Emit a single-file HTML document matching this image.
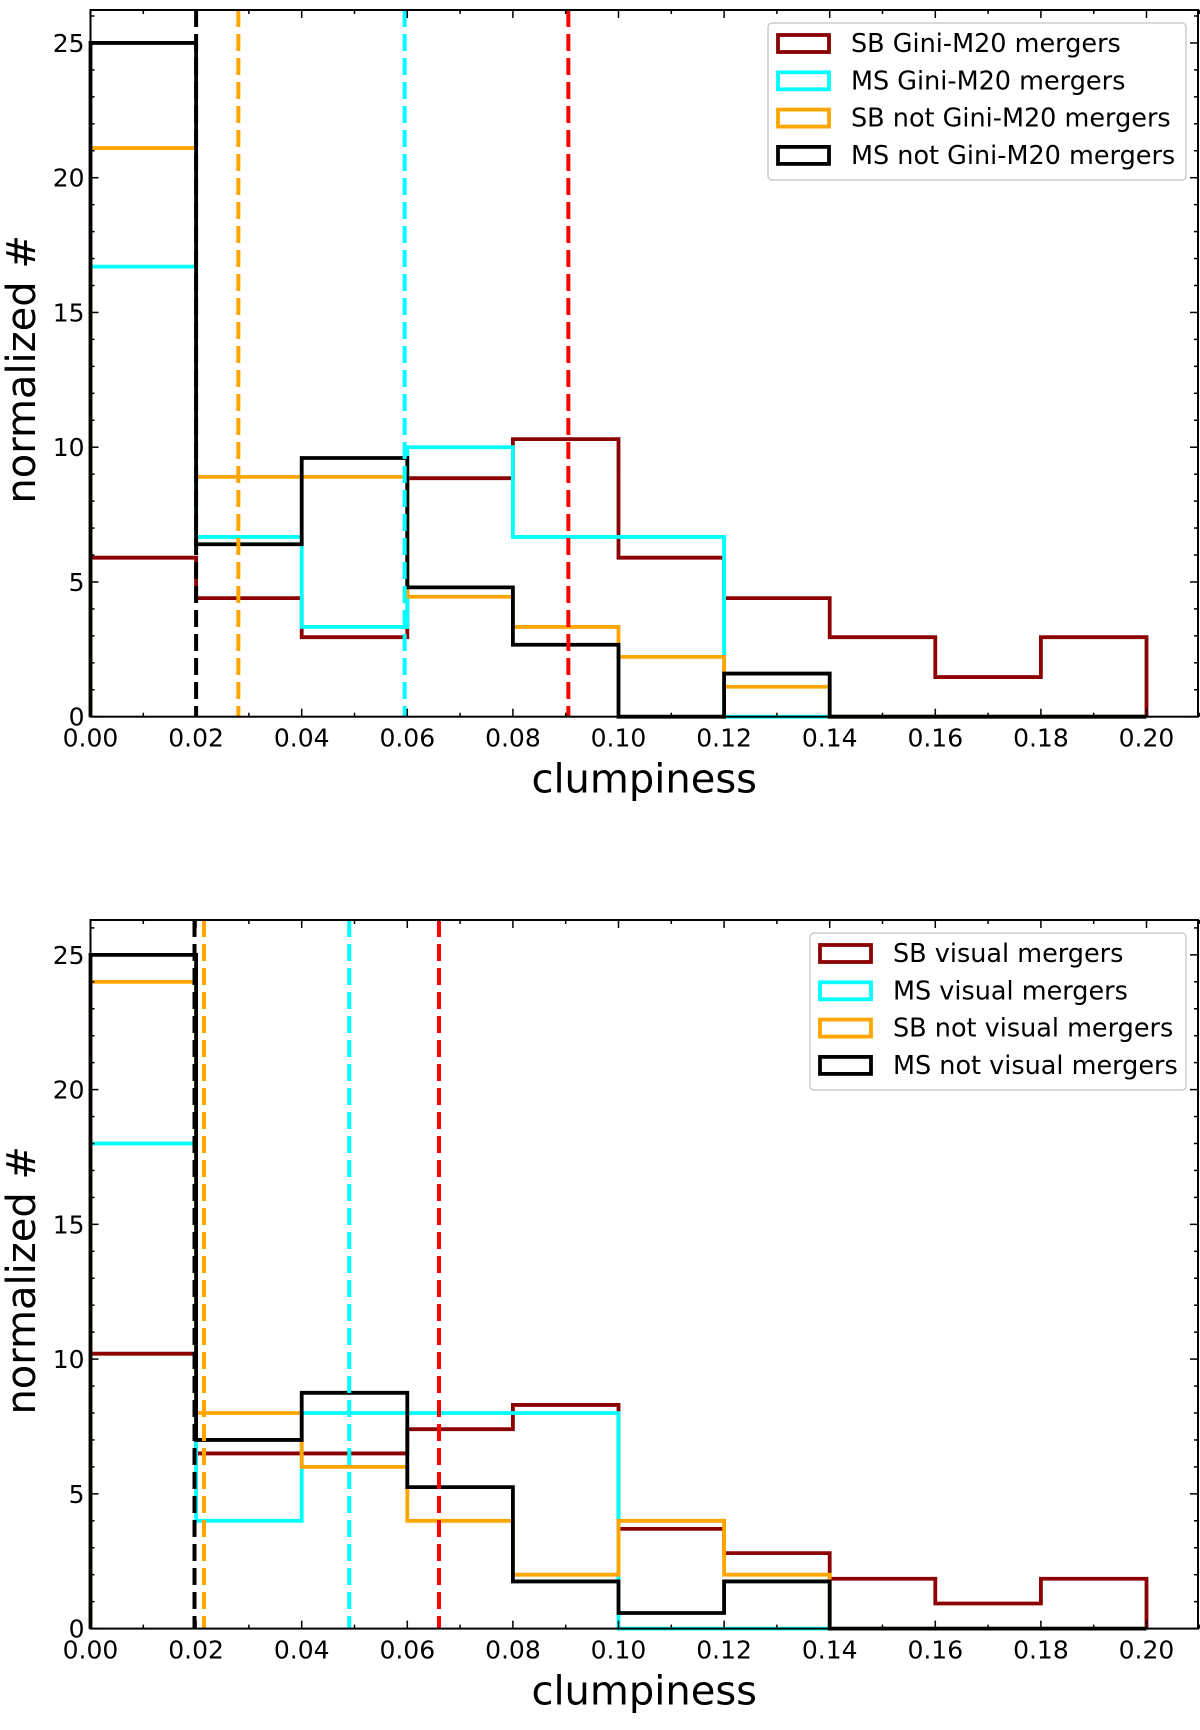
<!DOCTYPE html>
<html><head><meta charset="utf-8"><style>
body{margin:0;background:#fff}
svg text{font-family:"DejaVu Sans","Liberation Sans",sans-serif;fill:#000}
</style></head><body>
<svg id="fig" width="1200" height="1725" xmlns="http://www.w3.org/2000/svg"></svg>
<script>
const binEdges=[0,0.02,0.04,0.06,0.08,0.10,0.12,0.14,0.16,0.18,0.20];
const xTicks=[0,0.02,0.04,0.06,0.08,0.10,0.12,0.14,0.16,0.18,0.20];
const xTickLabels=["0.00","0.02","0.04","0.06","0.08","0.10","0.12","0.14","0.16","0.18","0.20"];
const yTicks=[0,5,10,15,20,25];
const yTickLabels=["0","5","10","15","20","25"];
const seriesColors=["#8b0000","#00ffff","#ffa500","#000000"];
const topLabels=["SB Gini-M20 mergers","MS Gini-M20 mergers","SB not Gini-M20 mergers","MS not Gini-M20 mergers"];
const topSB=[5.9,4.4,2.95,8.85,10.3,5.9,4.4,2.95,1.47,2.95];
const topMS=[16.7,6.67,3.33,10,6.67,6.67,0,0,0,0];
const topSBnot=[21.1,8.9,8.9,4.45,3.33,2.22,1.11,0,0,0];
const topMSnot=[25,6.4,9.6,4.8,2.67,0,1.6,0,0,0];
const topMedians=[0.0905,0.0595,0.028,0.02];
const botLabels=["SB visual mergers","MS visual mergers","SB not visual mergers","MS not visual mergers"];
const botSB=[10.2,6.5,6.5,7.4,8.3,3.7,2.8,1.85,0.93,1.85];
const botMS=[18,4,8,8,8,0,0,0,0,0];
const botSBnot=[24,8,6,4,2,4,2,0,0,0];
const botMSnot=[25,7,8.75,5.25,1.75,0.58,1.75,0,0,0];
const botMedians=[0.066,0.049,0.0215,0.0197];
const medianColors=["#ff0000","#00ffff","#ffa500","#000000"];

const NS="http://www.w3.org/2000/svg";
const fig=document.getElementById('fig');
function mk(tag,attrs,parent){const e=document.createElementNS(NS,tag);for(const k in attrs)e.setAttribute(k,attrs[k]);(parent||fig).appendChild(e);return e;}

function panel(name,top,zeroY,series,labels,medians,legend){
  const L=90.5,R=1198,ymax=(zeroY-top)/26.95;
  const X=v=>L+v/0.02*105.6;
  const Y=v=>zeroY-v*26.95;
  const g=mk('g',{});
  
  
  series.forEach((vals,si)=>{
    let d='M'+X(binEdges[0])+','+Y(0);
    vals.forEach((v,i)=>{d+=' L'+X(binEdges[i])+','+Y(v)+' L'+X(binEdges[i+1])+','+Y(v);});
    d+=' L'+X(binEdges[vals.length])+','+Y(0);
    const p=mk('path',{d:d,fill:'none',stroke:seriesColors[si],'stroke-width':3.8,'stroke-linejoin':'miter'},g);
    
    
  });
  medians.forEach((m,i)=>{
    const l=mk('line',{x1:X(m),x2:X(m),y1:top,y2:zeroY,stroke:medianColors[i],'stroke-width':4,'stroke-dasharray':'17,7'},g);
    
    
  });
  const sp=mk('rect',{x:L,y:top,width:R-L,height:zeroY-top,fill:'none',stroke:'#000','stroke-width':2},g);
  
  
  for(let k=0;k<=21;k++){
    const v=k*0.01,x=X(v),len=(k%2==0)?8:4;
    mk('line',{x1:x,x2:x,y1:zeroY,y2:zeroY-len,stroke:'#000','stroke-width':1.5},g);
    mk('line',{x1:x,x2:x,y1:top,y2:top+len,stroke:'#000','stroke-width':1.5},g);
  }
  xTicks.forEach((v,i)=>{
    const t=mk('text',{x:X(v),y:zeroY+30,'font-size':25,'text-anchor':'middle'},g);
    t.textContent=xTickLabels[i];
    
    
  });
  for(let v=0;v<=ymax;v++){
    const y=Y(v),len=(v%5==0)?8:4;
    mk('line',{x1:L,x2:L+len,y1:y,y2:y,stroke:'#000','stroke-width':1.5},g);
    mk('line',{x1:R,x2:R-len,y1:y,y2:y,stroke:'#000','stroke-width':1.5},g);
  }
  yTicks.forEach((v,i)=>{
    const t=mk('text',{x:L-6,y:Y(v)+9,'font-size':25,'text-anchor':'end'},g);
    t.textContent=yTickLabels[i];
    
    
  });
  const xl=mk('text',{x:(L+R)/2,y:zeroY+76,'font-size':40,'text-anchor':'middle'},g);
  xl.textContent='clumpiness';
  
  
  const cy=(top+zeroY)/2;
  const yl=mk('text',{x:35,y:cy+6,'font-size':40,'text-anchor':'middle',transform:'rotate(-90 35 '+(cy+6)+')'},g);
  yl.textContent='normalized #';
  
  
  const lg=mk('g',{},g);
  
  
  mk('rect',{x:legend.x,y:legend.y,width:1186-legend.x,height:157,rx:4,fill:'#fff','fill-opacity':0.85,stroke:'#ccc','stroke-width':1.5},lg);
  labels.forEach((lab,i)=>{
    const ry=legend.y+12+i*37.3;
    const r=mk('rect',{x:legend.x+10,y:ry,width:51,height:17,fill:'none',stroke:seriesColors[i],'stroke-width':3.8},lg);
    
    
    const t=mk('text',{x:legend.x+83,y:ry+17,'font-size':25.5},lg);
    t.textContent=lab;
    
    
  });
}
panel('top',10,716.7,[topSB,topMS,topSBnot,topMSnot],topLabels,topMedians,{x:768,y:23});
panel('bottom',920,1628.6,[botSB,botMS,botSBnot,botMSnot],botLabels,botMedians,{x:810,y:933});
</script>
</body></html>
